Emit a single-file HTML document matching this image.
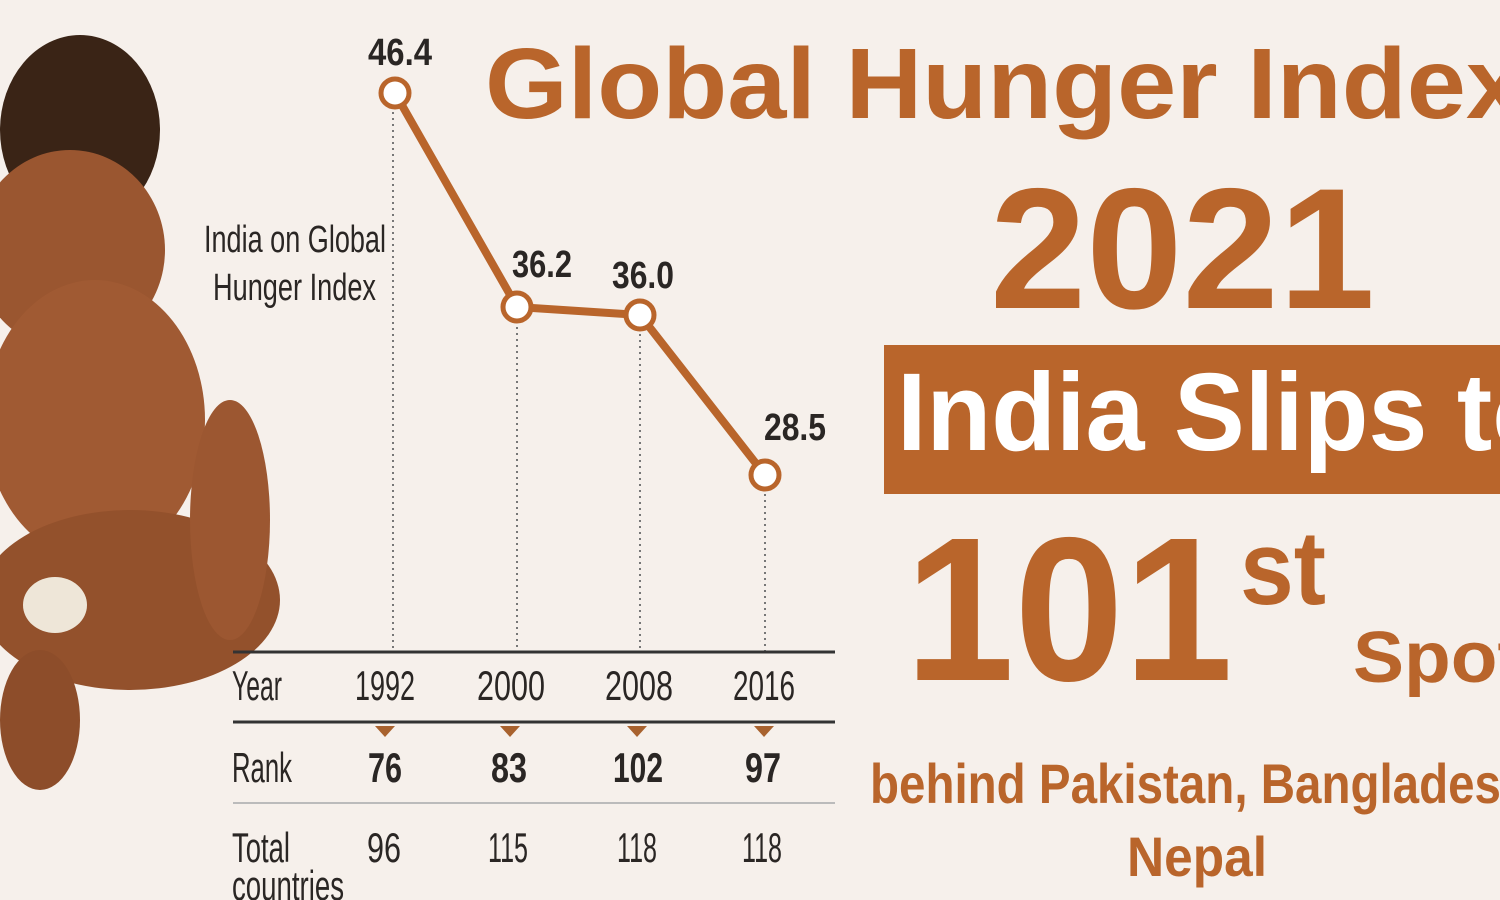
<!DOCTYPE html>
<html><head><meta charset="utf-8"><style>
html,body{margin:0;padding:0;width:1500px;height:900px;overflow:hidden;background:#f6f0eb}
svg{display:block}
.c{font-family:"Liberation Sans Narrow","Liberation Sans",sans-serif;fill:#2a2624}
.o{font-family:"Liberation Sans",sans-serif;font-weight:bold;fill:#b9652b}
</style></head><body>
<svg width="1500" height="900" viewBox="0 0 1500 900" xmlns="http://www.w3.org/2000/svg">
<rect width="1500" height="900" fill="#f6f0eb"/>
<!-- child figure approximation -->
<g fill="#8a4a26">
<ellipse cx="80" cy="130" rx="80" ry="95" fill="#3a2416"/>
<ellipse cx="70" cy="250" rx="95" ry="100" fill="#9a5630"/>
<ellipse cx="95" cy="420" rx="110" ry="140" fill="#a05a33"/>
<ellipse cx="130" cy="600" rx="150" ry="90" fill="#93512c"/>
<ellipse cx="40" cy="720" rx="40" ry="70" fill="#8d4d2a"/>
<ellipse cx="230" cy="520" rx="40" ry="120" fill="#9c5731"/>
<ellipse cx="55" cy="605" rx="32" ry="28" fill="#eee6d8"/>
</g>
<!-- dotted lines -->
<g stroke="#777" stroke-width="2" stroke-dasharray="2,4">
<line x1="393" y1="100" x2="393" y2="652"/>
<line x1="517" y1="315" x2="517" y2="652"/>
<line x1="640" y1="322" x2="640" y2="652"/>
<line x1="765" y1="482" x2="765" y2="652"/>
</g>
<polyline points="395,93 517,307 640,315 765,475" fill="none" stroke="#b9652b" stroke-width="8" stroke-linejoin="round"/>
<g fill="#fff" stroke="#b9652b" stroke-width="5">
<circle cx="395" cy="93" r="14"/><circle cx="517" cy="307" r="14"/>
<circle cx="640" cy="315" r="14"/><circle cx="765" cy="475" r="14"/>
</g>
<g class="c" font-weight="bold" font-size="38">
<text x="368" y="65" textLength="64" lengthAdjust="spacingAndGlyphs">46.4</text>
<text x="512" y="277" textLength="60" lengthAdjust="spacingAndGlyphs">36.2</text>
<text x="612" y="288" textLength="62" lengthAdjust="spacingAndGlyphs">36.0</text>
<text x="764" y="440" textLength="62" lengthAdjust="spacingAndGlyphs">28.5</text>
</g>
<g class="c" font-size="38">
<text x="204" y="252" textLength="182" lengthAdjust="spacingAndGlyphs">India on Global</text>
<text x="213" y="300" textLength="163" lengthAdjust="spacingAndGlyphs">Hunger Index</text>
</g>
<line x1="233" y1="652" x2="835" y2="652" stroke="#333" stroke-width="3"/>
<line x1="233" y1="722" x2="835" y2="722" stroke="#333" stroke-width="3"/>
<line x1="233" y1="803" x2="835" y2="803" stroke="#bbb" stroke-width="2"/>
<g fill="#a8622e">
<polygon points="375,726 395,726 385,737"/><polygon points="500,726 520,726 510,737"/>
<polygon points="627,726 647,726 637,737"/><polygon points="754,726 774,726 764,737"/>
</g>
<g class="c" font-size="42">
<text x="232" y="700" textLength="50" lengthAdjust="spacingAndGlyphs">Year</text>
<text x="355" y="700" textLength="60" lengthAdjust="spacingAndGlyphs">1992</text>
<text x="477" y="700" textLength="68" lengthAdjust="spacingAndGlyphs">2000</text>
<text x="605" y="700" textLength="68" lengthAdjust="spacingAndGlyphs">2008</text>
<text x="733" y="700" textLength="62" lengthAdjust="spacingAndGlyphs">2016</text>
<text x="232" y="782" textLength="60" lengthAdjust="spacingAndGlyphs">Rank</text>
<text x="232" y="862" textLength="58" lengthAdjust="spacingAndGlyphs">Total</text>
<text x="232" y="900" textLength="112" lengthAdjust="spacingAndGlyphs">countries</text>
<text x="367" y="862" textLength="34" lengthAdjust="spacingAndGlyphs">96</text>
<text x="488" y="862" textLength="40" lengthAdjust="spacingAndGlyphs">115</text>
<text x="617" y="862" textLength="40" lengthAdjust="spacingAndGlyphs">118</text>
<text x="742" y="862" textLength="40" lengthAdjust="spacingAndGlyphs">118</text>
</g>
<g class="c" font-size="42" font-weight="bold">
<text x="368" y="782" textLength="34" lengthAdjust="spacingAndGlyphs">76</text>
<text x="491" y="782" textLength="36" lengthAdjust="spacingAndGlyphs">83</text>
<text x="613" y="782" textLength="50" lengthAdjust="spacingAndGlyphs">102</text>
<text x="745" y="782" textLength="36" lengthAdjust="spacingAndGlyphs">97</text>
</g>
<!-- right side -->
<text class="o" x="485" y="118" font-size="100" textLength="1040" lengthAdjust="spacingAndGlyphs">Global Hunger Index</text>
<text class="o" x="990" y="308" font-size="172" textLength="385" lengthAdjust="spacingAndGlyphs">2021</text>
<rect x="884" y="345" width="616" height="149" fill="#b9652b"/>
<text x="897" y="450" font-family="Liberation Sans,sans-serif" font-weight="bold" font-size="110" fill="#fff" textLength="660" lengthAdjust="spacingAndGlyphs">India Slips to</text>
<text class="o" x="905" y="680" font-size="205" textLength="328" lengthAdjust="spacingAndGlyphs">101</text>
<text class="o" x="1240" y="604" font-size="105" textLength="86" lengthAdjust="spacingAndGlyphs">st</text>
<text class="o" x="1353" y="682" font-size="72" textLength="170" lengthAdjust="spacingAndGlyphs">Spot</text>
<text class="o" x="870" y="803" font-size="56" textLength="660" lengthAdjust="spacingAndGlyphs">behind Pakistan, Bangladesh</text>
<text class="o" x="1127" y="876" font-size="56" textLength="140" lengthAdjust="spacingAndGlyphs">Nepal</text>
</svg>
</body></html>
